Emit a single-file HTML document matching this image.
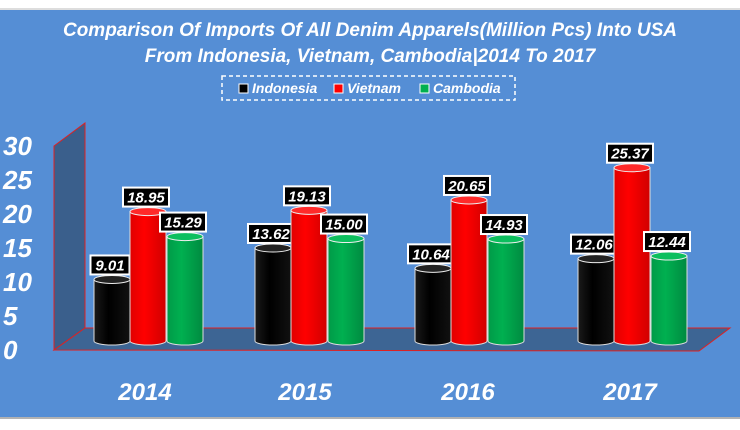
<!DOCTYPE html>
<html><head><meta charset="utf-8"><style>
html,body{margin:0;padding:0;background:#fff}
svg{display:block}
text{font-family:"Liberation Sans",sans-serif;font-style:italic;font-weight:bold;fill:#fff}
</style></head><body>
<svg id="s" width="740" height="430" xmlns="http://www.w3.org/2000/svg">
<defs>
<linearGradient id="gk" x1="0" x2="1"><stop offset="0" stop-color="#1a1a1a"/><stop offset="0.4" stop-color="#000"/><stop offset="1" stop-color="#111"/></linearGradient>
<linearGradient id="gr" x1="0" x2="1"><stop offset="0" stop-color="#e00000"/><stop offset="0.4" stop-color="#ff0000"/><stop offset="1" stop-color="#d00000"/></linearGradient>
<linearGradient id="gg" x1="0" x2="1"><stop offset="0" stop-color="#009a48"/><stop offset="0.4" stop-color="#00b050"/><stop offset="1" stop-color="#008a40"/></linearGradient>
</defs>
<rect x="0" y="0" width="740" height="430" fill="#fff"/>
<line x1="0" y1="9" x2="740" y2="9" stroke="#bbb" stroke-width="1"/>
<rect x="0" y="10" width="740" height="407" fill="#558ed5"/>
<line x1="0" y1="418" x2="740" y2="418" stroke="#999" stroke-width="1.5"/>
<text x="370" y="36" font-size="19" text-anchor="middle">Comparison Of Imports Of All Denim Apparels(Million Pcs) Into USA</text>
<text x="370" y="62" font-size="19" text-anchor="middle">From Indonesia, Vietnam, Cambodia|2014 To 2017</text>
<rect x="222" y="76" width="293" height="24" fill="none" stroke="#fff" stroke-width="1.5" stroke-dasharray="4,3"/>
<rect x="239" y="84" width="9" height="9" fill="#000" stroke="#fff"/>
<text x="252" y="93" font-size="14">Indonesia</text>
<rect x="334" y="84" width="9" height="9" fill="#f00" stroke="#fff"/>
<text x="347" y="93" font-size="14">Vietnam</text>
<rect x="420" y="84" width="9" height="9" fill="#00b050" stroke="#fff"/>
<text x="433" y="93" font-size="14">Cambodia</text>
<polygon points="54,146 85,123 85,328 54,350" fill="#3a5f8c" stroke="#e02020" stroke-width="1"/>
<polygon points="54,350 85,328 730,328 699,351" fill="#3d6594" stroke="#e02020" stroke-width="1"/>
<g id="yl"></g>
<g id="bars"></g>
<text x="145" y="400" font-size="24" text-anchor="middle">2014</text>
<text x="305" y="400" font-size="24" text-anchor="middle">2015</text>
<text x="468" y="400" font-size="24" text-anchor="middle">2016</text>
<text x="630" y="400" font-size="24" text-anchor="middle">2017</text>
</svg>
<script>
var NS="http://www.w3.org/2000/svg",s=document.getElementById('s');
function el(t,a,p,tx){var e=document.createElementNS(NS,t);for(var k in a)e.setAttribute(k,a[k]);if(tx)e.textContent=tx;(p||s).appendChild(e);return e;}
var yl=document.getElementById('yl');
for(var i=0;i<=6;i++){var y=350-i*34;el('text',{x:3,y:y+9,'font-size':26},yl,String(i*5));}
var data=[[9.01,18.95,15.29],[13.62,19.13,15.00],[10.64,20.65,14.93],[12.06,25.37,12.44]];
var xs=[94,255,415,578],fills=['url(#gk)','url(#gr)','url(#gg)'],tops=['#222','#ff2a2a','#0cbf5e'];
var b=document.getElementById('bars'),base=341,sc=6.83,w=36;
data.forEach(function(g,gi){g.forEach(function(v,j){
var x=xs[gi]+j*w+(j==2?1:0),top=base-v*sc;
el('path',{d:'M'+x+','+top+' L'+x+','+base+' A'+(w/2)+',4 0 0 0 '+(x+w)+','+base+' L'+(x+w)+','+top+' Z',fill:fills[j],stroke:'#ddd','stroke-width':1},b);
el('ellipse',{cx:x+w/2,cy:top,rx:w/2,ry:4,fill:tops[j],stroke:'#eee','stroke-width':1},b);
var lbl=v.toFixed(2),lw=lbl.length>4?46:39;
var lx=x+w/2-lw/2-2,ly=top-24;
el('rect',{x:lx,y:ly,width:lw,height:19,fill:'#000',stroke:'#fff','stroke-width':2},b);
el('text',{x:lx+lw/2,y:ly+15,'font-size':15,'text-anchor':'middle'},b,lbl);
});});
</script>
</body></html>
